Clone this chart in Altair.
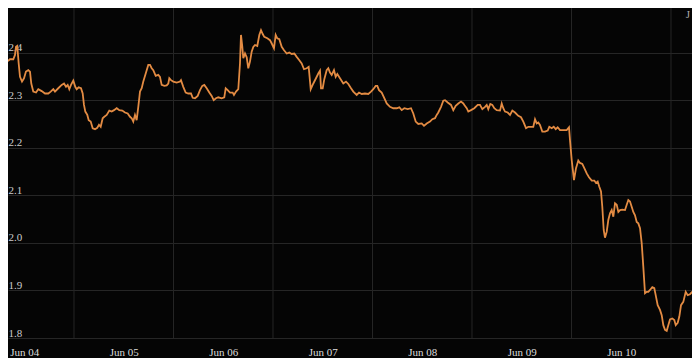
import altair as alt
import pandas as pd

# hours since 2024-06-04 00:00 and the value read at each point
hours = [6.56, 6.95, 7.53, 8.15, 8.56, 9.36, 9.77, 10.01, 10.32, 10.66, 10.98, 11.46, 11.94, 12.42, 12.98,
         13.39, 13.70, 14.18, 14.84, 15.39, 16.21, 17.01, 17.80, 18.38, 19.01, 19.42, 20.21, 21.03, 21.59,
         22.07, 22.48, 22.87, 23.28, 23.83, 24.31, 24.65, 25.13, 25.69, 26.10, 26.41, 26.73, 27.21, 27.55,
         28.03, 28.51, 29.07, 29.62, 30.03, 30.44, 30.92, 31.31, 31.89, 32.52, 33.09, 33.65, 34.30, 34.93,
         35.65, 36.30, 36.95, 37.51, 37.92, 38.30, 38.71, 39.12, 39.51, 39.92, 40.33, 40.72, 41.30, 41.92,
         42.33, 42.74, 43.13, 43.71, 44.33, 44.74, 45.15, 45.78, 46.36, 46.75, 46.99, 47.40, 47.95, 48.77,
         49.57, 49.81, 50.36, 50.94, 51.57, 52.22, 52.63, 53.19, 53.84, 54.39, 54.95, 55.43, 56.01, 56.64,
         57.21, 57.70, 58.25, 58.81, 59.63, 60.25, 60.59, 61.07, 61.63, 62.28, 62.59, 63.08, 63.63, 64.04,
         64.28, 64.60, 64.84, 65.25, 65.66, 66.04, 66.45, 66.86, 67.25, 67.66, 68.21, 68.70, 69.11, 69.52,
         69.90, 70.63, 71.28, 71.76, 72.24, 72.65, 73.04, 73.52, 74.10, 74.66, 75.31, 75.93, 76.51, 77.14,
         77.72, 78.35, 78.92, 79.48, 80.13, 80.61, 81.10, 81.73, 82.37, 82.93, 83.34, 83.58, 83.99, 84.38,
         84.95, 85.34, 85.75, 86.16, 86.71, 87.12, 87.51, 88.16, 88.96, 89.61, 90.17, 90.82, 91.37, 92.19,
         92.75, 93.40, 94.19, 94.99, 95.64, 96.19, 96.77, 97.16, 97.57, 98.22, 98.85, 99.43, 100.22, 101.02,
         101.84, 102.47, 103.04, 103.67, 104.49, 105.29, 105.84, 106.42, 107.05, 107.87, 108.42, 109.08,
         109.87, 110.43, 111.08, 111.49, 111.87, 112.53, 113.08, 113.49, 114.14, 114.94, 115.49, 116.07,
         116.70, 117.35, 117.91, 118.15, 118.73, 119.11, 119.76, 120.56, 121.38, 121.93, 122.49, 123.14,
         123.55, 123.93, 124.42, 124.90, 125.38, 125.96, 126.76, 127.17, 127.55, 127.96, 128.62, 129.17,
         129.73, 130.38, 131.17, 131.82, 132.38, 133.03, 133.59, 134.23, 134.79, 135.20, 135.61, 135.99,
         136.40, 136.96, 137.61, 138.26, 138.65, 139.23, 139.71, 140.19, 140.67, 141.23, 142.02, 142.84,
         143.40, 143.64, 144.05, 144.60, 145.09, 145.64, 146.05, 146.61, 147.09, 147.67, 148.22, 148.88,
         149.50, 149.91, 150.32, 150.71, 151.12, 151.43, 151.77, 152.08, 152.49, 152.88, 153.29, 153.70,
         154.09, 154.50, 154.91, 155.30, 155.71, 156.26, 156.91, 157.32, 157.71, 158.11, 158.52, 158.91,
         159.32, 159.73, 160.12, 160.53, 160.94, 161.32, 161.73, 162.14, 162.53, 162.94, 163.49, 163.97,
         164.31, 164.79, 165.35, 165.76, 166.15, 166.56, 166.97, 167.35, 167.76, 168.32, 168.80, 169.14,
         169.62, 170.01, 170.42, 170.97, 171.55, 172.03, 172.59, 173.14, 173.63, 174.03, 174.59]

values = [2.388, 2.400, 2.381, 2.383, 2.386, 2.386, 2.395, 2.412, 2.414, 2.377, 2.349, 2.339, 2.346, 2.360, 2.363,
          2.360, 2.335, 2.318, 2.316, 2.323, 2.319, 2.314, 2.314, 2.318, 2.323, 2.318, 2.325, 2.332, 2.335,
          2.328, 2.332, 2.323, 2.332, 2.341, 2.328, 2.323, 2.327, 2.325, 2.314, 2.290, 2.276, 2.269, 2.258,
          2.255, 2.241, 2.239, 2.242, 2.248, 2.244, 2.262, 2.265, 2.269, 2.278, 2.276, 2.279, 2.283, 2.279,
          2.278, 2.274, 2.272, 2.265, 2.262, 2.255, 2.269, 2.258, 2.286, 2.318, 2.325, 2.339, 2.356, 2.374,
          2.374, 2.367, 2.363, 2.351, 2.353, 2.349, 2.332, 2.330, 2.331, 2.335, 2.346, 2.342, 2.339, 2.337,
          2.339, 2.342, 2.328, 2.316, 2.314, 2.314, 2.305, 2.304, 2.309, 2.321, 2.330, 2.332, 2.325, 2.316,
          2.309, 2.300, 2.304, 2.306, 2.304, 2.306, 2.325, 2.321, 2.316, 2.316, 2.311, 2.318, 2.323, 2.377,
          2.437, 2.412, 2.388, 2.398, 2.390, 2.367, 2.381, 2.402, 2.412, 2.416, 2.414, 2.437, 2.447, 2.439,
          2.433, 2.430, 2.426, 2.418, 2.409, 2.437, 2.430, 2.428, 2.412, 2.405, 2.398, 2.400, 2.397, 2.398,
          2.391, 2.384, 2.377, 2.365, 2.367, 2.370, 2.323, 2.335, 2.346, 2.356, 2.362, 2.325, 2.325, 2.344,
          2.363, 2.367, 2.358, 2.353, 2.363, 2.349, 2.355, 2.346, 2.335, 2.339, 2.334, 2.325, 2.318, 2.311,
          2.316, 2.313, 2.314, 2.313, 2.318, 2.323, 2.330, 2.330, 2.321, 2.316, 2.304, 2.293, 2.286, 2.283,
          2.283, 2.285, 2.279, 2.283, 2.281, 2.283, 2.272, 2.255, 2.250, 2.251, 2.246, 2.251,
          2.255, 2.260, 2.262, 2.269, 2.274, 2.286, 2.299, 2.300, 2.295, 2.290, 2.279, 2.288,
          2.293, 2.297, 2.293, 2.290, 2.283, 2.276, 2.279, 2.283, 2.290, 2.290, 2.281, 2.286,
          2.290, 2.281, 2.292, 2.290, 2.283, 2.279, 2.278, 2.293, 2.283, 2.276, 2.274, 2.269,
          2.278, 2.274, 2.267, 2.264, 2.255, 2.241, 2.244, 2.244, 2.244, 2.260, 2.251, 2.253,
          2.248, 2.234, 2.234, 2.236, 2.244, 2.241, 2.244, 2.239, 2.243, 2.237, 2.237, 2.237,
          2.243, 2.216, 2.174, 2.132, 2.157, 2.173, 2.168, 2.166, 2.157, 2.146, 2.138, 2.131,
          2.131, 2.126, 2.129, 2.118, 2.108, 2.076, 2.027, 2.011, 2.023, 2.048, 2.062, 2.069,
          2.055, 2.083, 2.080, 2.065, 2.069, 2.070, 2.069, 2.080, 2.090, 2.087, 2.076, 2.065,
          2.058, 2.044, 2.041, 2.031, 1.999, 1.950, 1.894, 1.897, 1.897, 1.901, 1.907, 1.905,
          1.890, 1.869, 1.859, 1.848, 1.827, 1.817, 1.815, 1.827, 1.839, 1.841, 1.838, 1.827,
          1.832, 1.845, 1.869, 1.876, 1.897, 1.890, 1.892, 1.897, 1.890, 1.881, 1.873]

grid_days = [5, 6, 7, 8, 9, 10, 11]      # vertical gridlines at midnight
label_days = [4, 5, 6, 7, 8, 9, 10]      # axis labels at noon
y_ticks = [1.8, 1.9, 2.0, 2.1, 2.2, 2.3, 2.4]
corner_text = ["J"]

base = pd.Timestamp("2024-06-04")
df = pd.DataFrame({
    "t": [(base + pd.Timedelta(hours=h)).strftime("%Y-%m-%dT%H:%M:%S") for h in hours],
    "v": values,
})
grid_df = pd.DataFrame({"t": [f"2024-06-{d:02d}T00:00:00" for d in grid_days]})

FONT = "Liberation Serif"
BG = "#050505"
GRID = "#262626"

x_domain = [alt.DateTime(year=2024, month=6, date=4, hours=8, minutes=5),
            alt.DateTime(year=2024, month=6, date=11, hours=5, minutes=4)]
x_scale = alt.Scale(domain=x_domain)
label_values = [alt.DateTime(year=2024, month=6, date=d, hours=12) for d in label_days]

x_axis = alt.Axis(values=label_values, format="%b %d", grid=False, ticks=False, tickSize=0,
                  domain=False, labelPadding=8, labelFont=FONT, labelFontSize=11,
                  labelColor="#dddddd", labelBaseline="top", title=None)

grid = alt.Chart(grid_df).mark_rule(color=GRID, strokeWidth=1).encode(
    x=alt.X("t:T", scale=x_scale, axis=x_axis, title=None)
)

line = alt.Chart(df).mark_line(color="#e38b43", strokeWidth=1.8, clip=True).encode(
    x=alt.X("t:T", scale=x_scale, axis=x_axis, title=None),
    y=alt.Y("v:Q", title=None,
            scale=alt.Scale(domain=[1.8, 2.4937], nice=False, zero=False),
            axis=alt.Axis(values=y_ticks, format=".1f", grid=True, gridColor=GRID, gridWidth=1,
                          ticks=False, tickSize=0, domain=False, labelAlign="left", labelPadding=0,
                          labelBaseline="alphabetic", labelOffset=-2, labelFont=FONT,
                          labelFontSize=11, labelColor="#cccccc")),
)

corner = alt.Chart(pd.DataFrame({"s": corner_text})).mark_text(
    font=FONT, fontSize=11, color="#aaaaaa", align="right", baseline="alphabetic"
).encode(text="s:N", x=alt.value(682), y=alt.value(10))

chart = alt.layer(grid, line, corner).properties(
    width=684, height=330,
    padding={"left": 0, "top": 0, "right": 0, "bottom": 20},
    autosize=alt.AutoSizeParams(type="none"),
    background=BG,
).configure_view(stroke=None)

chart.save("out.html", embed_options={"renderer": "svg", "actions": False})
